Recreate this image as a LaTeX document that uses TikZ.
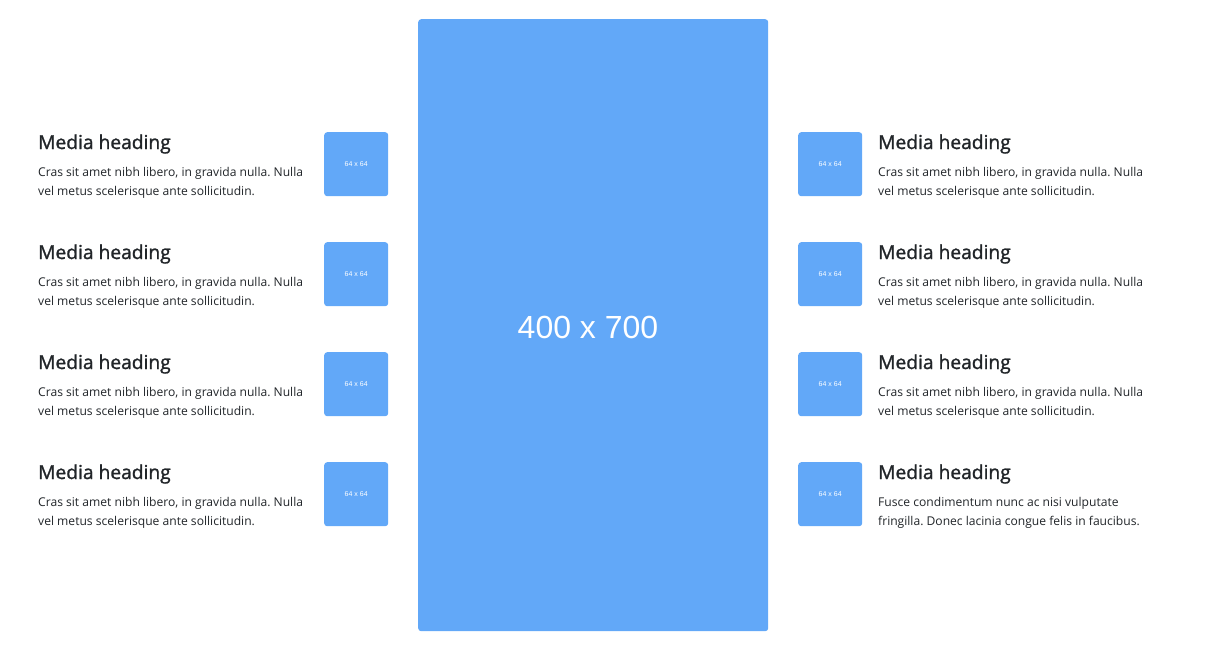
\documentclass[tikz,border=0pt]{standalone}
\usepackage{fontspec}
\setmainfont{Open Sans}
\newfontfamily\headfont[FakeBold=1.3]{Open Sans}
\newfontfamily\phfont{Liberation Sans}
\definecolor{phblue}{RGB}{98,168,248}
\definecolor{txt}{RGB}{33,37,41}
\frenchspacing
\begin{document}
\begin{tikzpicture}[x=1pt,y=-1pt,
  ph/.style={fill=phblue,draw=none,rounded corners=3pt,inner sep=0pt},
  thumb/.style={ph,minimum width=64pt,minimum height=64pt,anchor=north west,
    text=white,font=\phfont\fontsize{7}{8}\selectfont},
  heading/.style={anchor=base west,inner sep=0pt,text=txt,font=\headfont\fontsize{19.2}{22}\selectfont},
  bodytxt/.style={anchor=base west,inner sep=0pt,text=txt,font=\frenchspacing\fontsize{12.1}{19}\selectfont}]
\useasboundingbox[fill=white] (0,0) rectangle (1215,653);
\node[ph,minimum width=350pt,minimum height=612pt,anchor=north west] (big) at (418,19) {};
\node[text=white,font=\phfont\fontsize{32}{36}\selectfont,inner sep=0pt] (bigtxt) at (588,327) {400 x 700};
\foreach \i/\y in {1/0,2/110,3/220,4/330}{
  \node[thumb] (lt\i) at (324,132+\y) {64 x 64};
  \node[heading] (lh\i) at (38,149+\y) {Media heading};
  \node[bodytxt] (lb\i) at (38,176+\y) {Cras sit amet nibh libero, in gravida nulla. Nulla};
  \node[bodytxt] (lc\i) at (38,195+\y) {vel metus scelerisque ante sollicitudin.};
  \node[thumb] (rt\i) at (798,132+\y) {64 x 64};
  \node[heading] (rh\i) at (878,149+\y) {Media heading};
}
\foreach \i/\y in {1/0,2/110,3/220}{
  \node[bodytxt] (rb\i) at (878,176+\y) {Cras sit amet nibh libero, in gravida nulla. Nulla};
  \node[bodytxt] (rc\i) at (878,195+\y) {vel metus scelerisque ante sollicitudin.};
}
\node[bodytxt] (rb4) at (878,506) {Fusce condimentum nunc ac nisi vulputate};
\node[bodytxt] (rc4) at (878,525) {fringilla. Donec lacinia congue felis in faucibus.};
\end{tikzpicture}
\end{document}
